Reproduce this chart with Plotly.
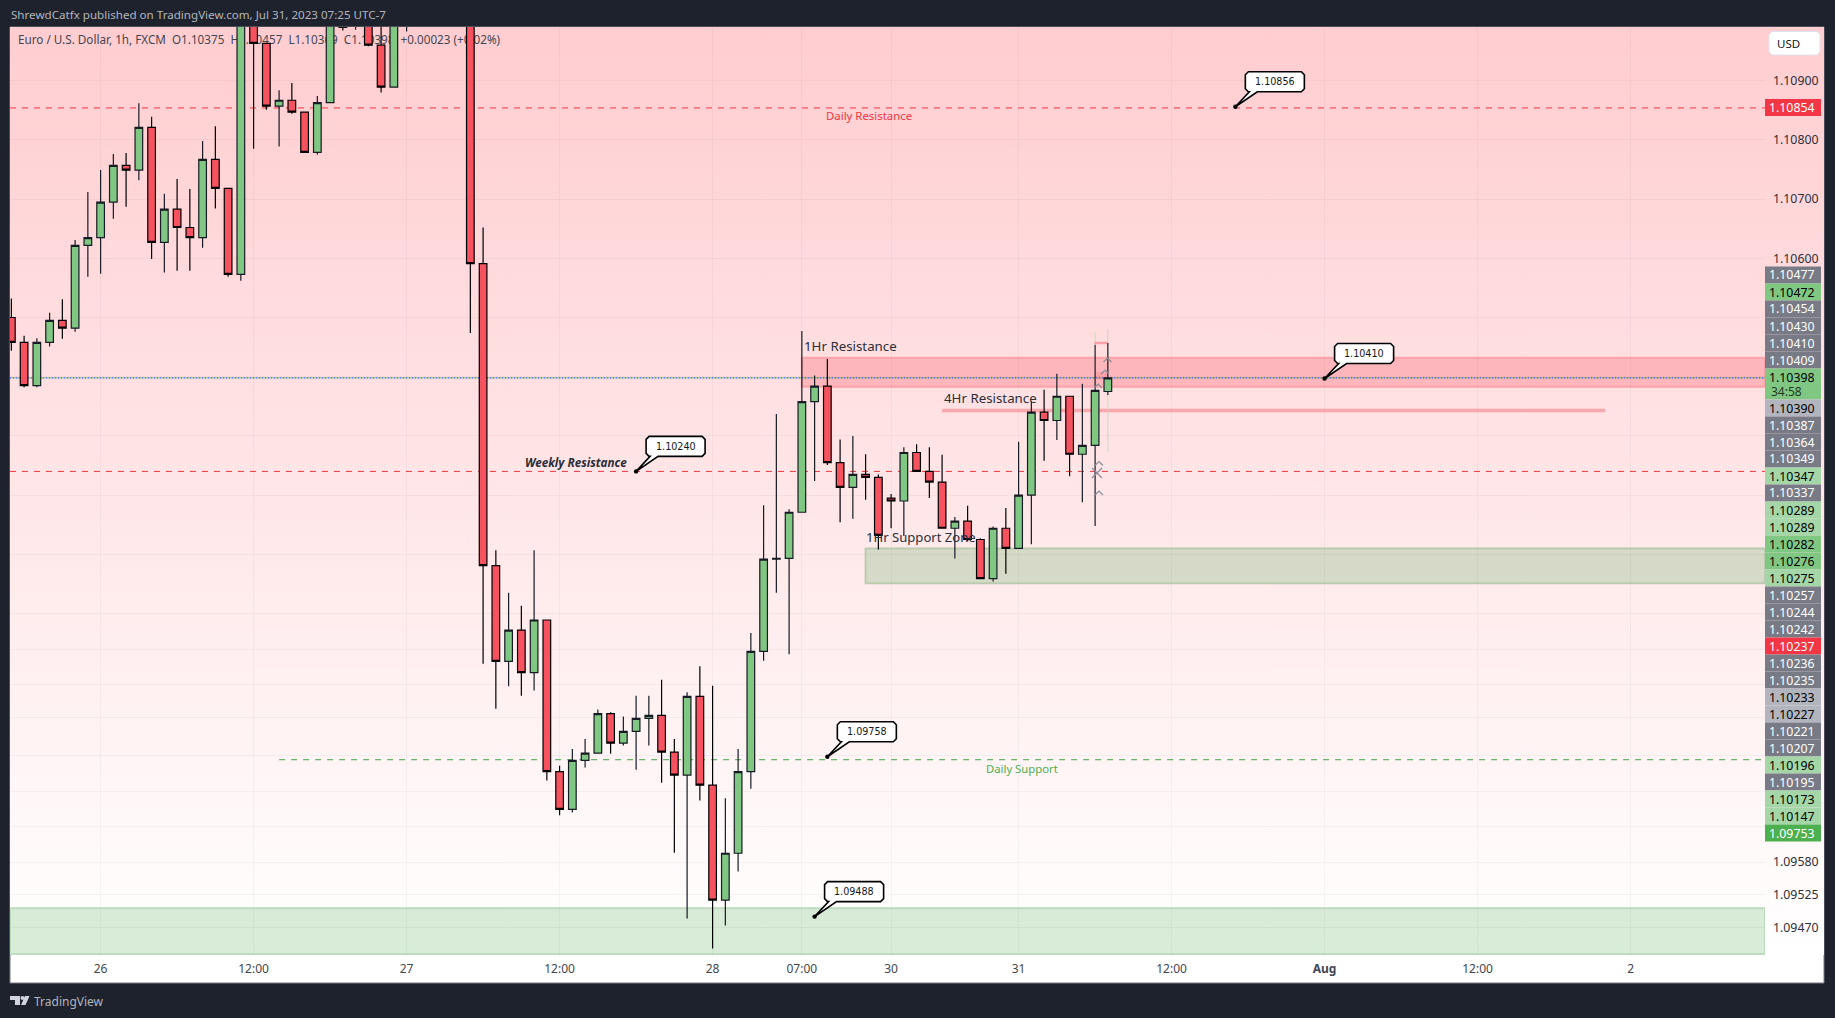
import plotly.graph_objects as go

# ---------- data ----------
first_candle = -7   # index of first candle; index 0 is the "26" tick, one step per hour
opens = [1.10500,1.10458,1.10385,1.10458,1.10495,1.10482,1.10622,1.10635,1.10695,1.10757,1.10749,1.10821,1.10627,1.10683,1.10652,1.10635,1.10767,1.10718,1.10573,1.11020,1.10963,1.10857,1.10867,1.10847,1.10779,1.10863,1.11015,1.11000,1.11020,1.10960,1.10889,1.11000,1.11030,1.11070,1.11090,1.11110,1.11120,1.10591,1.10081,1.09919,1.09972,1.09900,1.09989,1.09733,1.09669,1.09752,1.09764,1.09831,1.09781,1.09801,1.09823,1.09828,1.09766,1.09727,1.09860,1.09710,1.09516,1.09595,1.09733,1.09936,1.10092,1.10093,1.10171,1.10358,1.10384,1.10255,1.10213,1.10235,1.10230,1.10195,1.10190,1.10272,1.10240,1.10222,1.10144,1.10156,1.10125,1.10059,1.10144,1.10110,1.10200,1.10340,1.10326,1.10367,1.10269,1.10284,1.10375]
highs = [1.10532,1.10469,1.10465,1.10508,1.10531,1.10631,1.10712,1.10749,1.10776,1.10778,1.10862,1.10839,1.10709,1.10734,1.10717,1.10798,1.10823,1.10718,1.11040,1.11050,1.10963,1.10884,1.10896,1.10848,1.10874,1.11010,1.11030,1.11040,1.11030,1.11000,1.11030,1.11050,1.11090,1.11110,1.11130,1.11140,1.11130,1.10652,1.10107,1.10035,1.10013,1.10107,1.09989,1.09743,1.09771,1.09788,1.09838,1.09833,1.09826,1.09861,1.09861,1.09888,1.09788,1.09867,1.09911,1.09878,1.09688,1.09771,1.09967,1.10183,1.10337,1.10176,1.10477,1.10402,1.10430,1.10294,1.10300,1.10269,1.10235,1.10202,1.10281,1.10286,1.10281,1.10268,1.10163,1.10182,1.10127,1.10147,1.10178,1.10290,1.10358,1.10378,1.10405,1.10367,1.10388,1.10454,1.10457]
lows = [1.10444,1.10382,1.10382,1.10451,1.10464,1.10476,1.10569,1.10574,1.10667,1.10687,1.10732,1.10599,1.10576,1.10579,1.10579,1.10618,1.10684,1.10569,1.10562,1.10785,1.10851,1.10789,1.10844,1.10779,1.10775,1.10863,1.10985,1.10986,1.10958,1.10880,1.10889,1.10983,1.11010,1.11040,1.11070,1.11090,1.10474,1.09915,1.09839,1.09877,1.09861,1.09870,1.09718,1.09659,1.09664,1.09740,1.09764,1.09763,1.09777,1.09736,1.09777,1.09714,1.09596,1.09485,1.09684,1.09434,1.09473,1.09564,1.09704,1.09920,1.10035,1.09931,1.10171,1.10224,1.10251,1.10154,1.10160,1.10192,1.10108,1.10144,1.10131,1.10240,1.10195,1.10144,1.10093,1.10122,1.10058,1.10054,1.10067,1.10110,1.10117,1.10258,1.10293,1.10232,1.10188,1.10148,1.10369]
closes = [1.10458,1.10385,1.10458,1.10495,1.10482,1.10622,1.10635,1.10695,1.10757,1.10749,1.10821,1.10627,1.10683,1.10652,1.10635,1.10767,1.10718,1.10573,1.11020,1.10963,1.10857,1.10867,1.10847,1.10779,1.10863,1.11000,1.10990,1.11020,1.10960,1.10889,1.11010,1.11030,1.11070,1.11090,1.11110,1.11120,1.10591,1.10081,1.09919,1.09972,1.09900,1.09989,1.09733,1.09669,1.09752,1.09764,1.09831,1.09781,1.09801,1.09823,1.09828,1.09766,1.09727,1.09860,1.09710,1.09516,1.09595,1.09733,1.09936,1.10092,1.10093,1.10171,1.10358,1.10384,1.10255,1.10213,1.10235,1.10230,1.10132,1.10190,1.10272,1.10240,1.10222,1.10144,1.10156,1.10125,1.10059,1.10144,1.10110,1.10200,1.10340,1.10326,1.10367,1.10269,1.10284,1.10377,1.10398]

time_positions = [0, 12, 24, 36, 48, 55, 62, 72, 84, 96, 108, 120]
time_labels = ["26", "12:00", "27", "12:00", "28", "07:00", "30", "31", "12:00", "<b>Aug</b>", "12:00", "2"]
grid_prices = [1.10900,1.10800,1.10700,1.10600,1.10500,1.10400,1.10300,1.10200,1.10100,1.10000,1.09940,1.09880,1.09825,1.09760,1.09700,1.09640,1.09580,1.09525,1.09470]
grid_labels = ["1.10900","1.10800","1.10700","1.10600","","","","","","","","","","","","","1.09580","1.09525","1.09470"]

tag_prices = ["1.10477","1.10472","1.10454","1.10430","1.10410","1.10409","1.10398","1.10390","1.10387","1.10364","1.10349","1.10347","1.10337","1.10289","1.10289","1.10282","1.10276","1.10275","1.10257","1.10244","1.10242","1.10237","1.10236","1.10235","1.10233","1.10227","1.10221","1.10207","1.10196","1.10195","1.10173","1.10147","1.09753"]
tag_kinds = ["g","G","g","g","g","g","G","s","g","g","g","L","g","L","L","G","G","L","g","g","g","R","g","g","s","s","g","g","L","g","L","L","D"]

daily_resistance = 1.10854
weekly_resistance = 1.10240
daily_support = 1.09753
last_close = 1.10398
zone_1h_res = (1.10432, 1.10383)
line_4h_res = 1.10343
zone_1h_sup = (1.10110, 1.10051)
zone_bottom = (1.09502, 1.09425)

callout_texts = ["1.10856", "1.10410", "1.10240", "1.09758", "1.09488"]
callout_x = [89, 96, 42, 57, 56]
callout_p = [1.10856, 1.10397, 1.10240, 1.09758, 1.09488]

# ---------- page geometry ----------
W, H = 1835, 1018
PL, PR, PAX, PT, PB, PFOOT = 10, 1765, 1824, 27, 955, 983
def fx(v): return v / W
def fy(v): return 1 - v / H
def X(n): return 100.6 + 12.75 * n
def Y(p): return 80.7 + (1.109 - p) * 59200
ymax = 1.109 + (80.7 - PT) / 59200
ymin = 1.109 - (PB - 80.7) / 59200
xmin = (PL - 100.6) / 12.75
xmax = (PR - 100.6) / 12.75
FONT = "Noto Sans"

fig = go.Figure()

# gradient background on the lower subplot
fig.add_trace(go.Scatter(
    x=[0, 1, 1, 0, 0], y=[0, 0, 1, 1, 0], mode="lines", line=dict(width=0), fill="toself",
    fillgradient=dict(type="vertical", start=0, stop=1, colorscale=[[0, "#ffffff"], [1, "#ffcdd0"]]),
    hoverinfo="skip", showlegend=False, xaxis="x", yaxis="y"))

# header legend sits behind the candles
legend_text = ("Euro / U.S. Dollar, 1h, FXCM\u00a0\u00a0O1.10375\u00a0\u00a0H1.10457\u00a0\u00a0L1.10369\u00a0\u00a0"
               "C1.10398\u00a0\u00a0+0.00023 (+0.02%)")
fig.add_trace(go.Scatter(
    x=[(18 - PL) / (PAX - PL)], y=[1 - (41.5 - PT) / (PB - PT)], mode="text", text=[legend_text],
    textposition="middle right", textfont=dict(family=FONT, size=11.7, color="#434651"),
    hoverinfo="skip", showlegend=False, xaxis="x", yaxis="y"))

candle_x = list(range(first_candle, first_candle + len(opens)))
fig.add_trace(go.Candlestick(
    x=candle_x, open=opens, high=highs, low=lows, close=closes,
    increasing=dict(fillcolor="#81c784", line=dict(color="#171b24", width=1.2)),
    decreasing=dict(fillcolor="#f7525f", line=dict(color="#000000", width=1.2)),
    whiskerwidth=0, hoverinfo="skip", showlegend=False, xaxis="x2", yaxis="y2"))

shapes = []
# pane
shapes.append(dict(type="rect", xref="paper", yref="paper", x0=fx(PL), x1=fx(PAX), y0=fy(PFOOT), y1=fy(PT),
                   fillcolor="#ffffff", line=dict(color="#787b86", width=1), layer="below"))
def dline(p, n0, n1, color, dash, width=1):
    shapes.append(dict(type="line", xref="x2", yref="y2", x0=n0, x1=n1, y0=p, y1=p,
                       line=dict(color=color, width=width, dash=dash), layer="below"))
def zone(p, n0, n1, fill, border):
    shapes.append(dict(type="rect", xref="x2", yref="y2", x0=n0, x1=n1, y0=p[0], y1=p[1],
                       fillcolor=fill, line=dict(color=border, width=2), layer="below"))
zone(zone_1h_res, 55, xmax, "rgba(247,82,95,0.29)", "rgba(250,150,158,0.75)")
zone(zone_1h_sup, 60, xmax, "rgba(67,160,71,0.22)", "#bccbb0")
zone(zone_bottom, xmin, xmax, "rgba(76,175,80,0.22)", "#bedabf")
dline(line_4h_res, 66, 118, "#f9a8ad", "solid", 3.5)
dline(daily_resistance, xmin, xmax, "#f23645", "6px,6px")
dline(weekly_resistance, xmin, xmax, "#f23645", "6px,6px")
dline(daily_support, 14, xmax, "#43a047", "6px,6px")
dline(last_close, xmin, xmax, "#2f9e44", "0px,1.5px,1px,0.5px", 1.2)
dline(last_close, xmin, xmax, "#2962ff", "1px,2px", 1.2)
# faded bar ghost
for n, p0, p1, c in [(78, 1.10475, 1.10459, "#c6dcc0"), (79, 1.10480, 1.10457, "#dcc6c8"), (79, 1.10369, 1.10272, "#c6dcc0")]:
    shapes.append(dict(type="line", xref="x2", yref="y2", x0=n, x1=n, y0=p0, y1=p1, line=dict(color=c, width=1), layer="below"))
shapes.append(dict(type="line", xref="x2", yref="y2", x0=77.95, x1=79, y0=1.10457, y1=1.10457, line=dict(color="#f9a0a8", width=2.5), layer="below"))
shapes.append(dict(type="rect", xref="x2", yref="y2", x0=78, x1=79, y0=1.10408, y1=1.10395, fillcolor="rgba(247,82,95,0.2)", line=dict(width=0), layer="below"))

def poly(pts, close=True):
    s = "M " + " L ".join(f"{fx(a):.5f},{fy(b):.5f}" for a, b in pts)
    return s + (" Z" if close else "")

# cursor marks
CUR = "#8b8e99"
for cx, cy in [(1099, 463.5), (1099, 493), (1107.5, 360), (1098, 386), (1105, 372)]:
    shapes.append(dict(type="path", xref="paper", yref="paper", path=poly([(cx - 4, cy + 2), (cx, cy - 2), (cx + 4, cy + 2)], False), line=dict(color=CUR, width=1.2)))
for d in (1, -1):
    shapes.append(dict(type="path", xref="paper", yref="paper", path=poly([(1092, 473 - 5 * d), (1102, 473 + 5 * d)], False), line=dict(color=CUR, width=1.2)))

# callouts
for tx, n, p in zip(callout_texts, callout_x, callout_p):
    dx, dy = X(n), Y(p)
    l, r, t, b = dx + 10, dx + 69, dy - 35, dy - 15
    shapes.append(dict(type="path", xref="paper", yref="paper",
        path=poly([(l + 3, t), (r - 3, t), (r, t + 3), (r, b - 3), (r - 3, b), (dx + 22, b), (dx, dy), (dx + 14, b), (l + 3, b), (l, b - 3), (l, t + 3)]),
        fillcolor="#ffffff", line=dict(color="#000000", width=1.6)))
    shapes.append(dict(type="circle", xref="paper", yref="paper", x0=fx(dx - 2.2), x1=fx(dx + 2.2), y0=fy(dy - 2.2), y1=fy(dy + 2.2),
                       fillcolor="#000000", line=dict(width=0)))

annots = []
def label(x, y, text, size, color, anchor="left", family=FONT):
    annots.append(dict(xref="paper", yref="paper", x=fx(x), y=fy(y), text=text, showarrow=False, xanchor=anchor, yanchor="middle",
                       font=dict(family=family, size=size, color=color), borderpad=0))

for tx, n, p in zip(callout_texts, callout_x, callout_p):
    label(X(n) + 39.5, Y(p) - 25, tx, 9.6, "#131722", "center", "DejaVu Sans")

# price tags
kinds = {"g": ("#787b86", "#ffffff"), "G": ("#81c784", "#000000"), "L": ("#a5d6a7", "#000000"),
         "s": ("#b2b5be", "#000000"), "R": ("#f23645", "#ffffff"), "D": ("#4caf50", "#ffffff")}
def tag(top, h, text, kind):
    bg, fg = kinds[kind]
    shapes.append(dict(type="rect", xref="paper", yref="paper", x0=fx(PR), x1=fx(1821), y0=fy(top + h), y1=fy(top), fillcolor=bg, line=dict(width=0)))
    label(1815.5, top + 8.5, text, 12.3, fg, "right")
top = 266.5
for price, kind in zip(tag_prices, tag_kinds):
    h = 31 if price == "1.10398" else 17
    tag(top, h, price, kind)
    if price == "1.10398":
        label(1803, top + 23, "34:58", 12, "#1e3a20", "right")
    top += h
tag(99, 17, "1.10854", "R")

# USD button
shapes.append(dict(type="path", xref="paper", yref="paper", fillcolor="#ffffff", line=dict(color="#e0e3eb", width=1),
    path=poly([(1772, 31.5), (1817, 31.5), (1820, 34.5), (1820, 52), (1817, 55), (1772, 55), (1769, 52), (1769, 34.5)])))
label(1788, 43.5, "USD", 11.5, "#131722", "center")

# chart labels
label(803, 346, "1Hr Resistance", 13.3, "#2a2e39")
label(943, 398, "4Hr Resistance", 13.3, "#2a2e39")
label(865, 537, "1Hr Support Zone", 13.1, "#2a2e39")
label(524, 462.5, "<b><i>Weekly Resistance</i></b>", 11.7, "#2a2e39")
label(825, 116, "Daily Resistance", 11.4, "#f23645")
label(985, 768, "Daily Support", 11.3, "#4caf50")

# frame header and footer
label(9.5, 14.5, "ShrewdCatfx published on TradingView.com, Jul 31, 2023 07:25 UTC-7", 11.6, "#b2b5be")
label(33, 1001, "TradingView", 12, "#b2b5be")
LOGO = "#d1d4dc"
shapes.append(dict(type="path", xref="paper", yref="paper", fillcolor=LOGO, line=dict(width=0),
                   path=poly([(10, 996), (20, 996), (20, 1005), (15, 1005), (15, 1000), (10, 1000)])))
shapes.append(dict(type="circle", xref="paper", yref="paper", fillcolor=LOGO, line=dict(width=0),
                   x0=fx(20.5), x1=fx(24.5), y0=fy(1000), y1=fy(996)))
shapes.append(dict(type="path", xref="paper", yref="paper", fillcolor=LOGO, line=dict(width=0),
                   path=poly([(25, 996), (29.5, 996), (25.5, 1005), (21, 1005)])))

fig.update_layout(
    width=W, height=H, autosize=False, margin=dict(l=0, r=0, t=0, b=0),
    paper_bgcolor="#1e222d", plot_bgcolor="rgba(0,0,0,0)", showlegend=False,
    boxgap=0.4, boxgroupgap=0,
    xaxis=dict(domain=[fx(PL), fx(PAX)], range=[0, 1], visible=False, fixedrange=True),
    yaxis=dict(domain=[fy(PB), fy(PT)], range=[0, 1], visible=False, fixedrange=True),
    xaxis2=dict(domain=[fx(PL), fx(PR)], range=[xmin, xmax], anchor="y2", rangeslider=dict(visible=False),
                tickmode="array", tickvals=time_positions, ticktext=time_labels,
                tickfont=dict(family=FONT, size=12, color="#434651"), ticklen=0, ticklabelstandoff=5,
                showgrid=True, gridcolor="rgba(42,46,57,0.045)", gridwidth=1, zeroline=False, showline=False, fixedrange=True),
    yaxis2=dict(domain=[fy(PB), fy(PT)], range=[ymin, ymax], anchor="x2", side="right",
                tickmode="array", tickvals=grid_prices, ticktext=grid_labels,
                tickfont=dict(family=FONT, size=12.3, color="#2a2e39"), ticklen=0, ticklabelstandoff=7,
                showgrid=True, gridcolor="rgba(42,46,57,0.045)", gridwidth=1, zeroline=False, showline=False, fixedrange=True),
    shapes=shapes, annotations=annots,
)

fig.write_html("out.html", config=dict(displayModeBar=False),
               post_script="document.body.style.margin='0';document.body.style.background='#1e222d';document.documentElement.style.overflow='hidden';")
